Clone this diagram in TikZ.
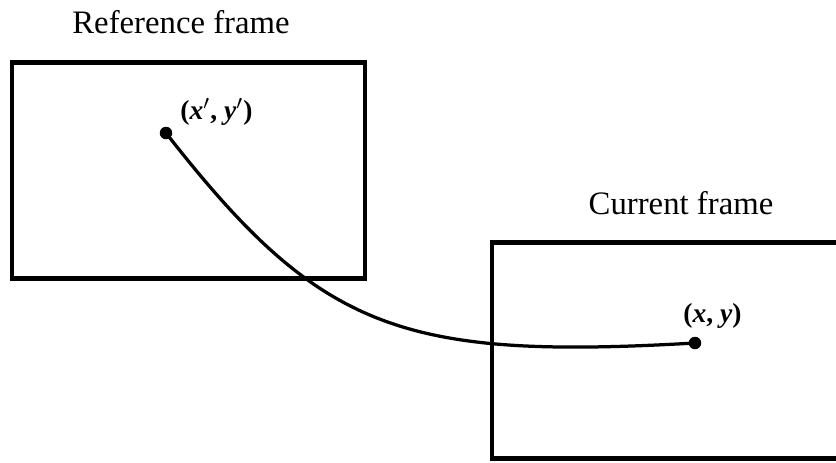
\documentclass[tikz,border=0pt]{standalone}
\usepackage{fontspec}
\setmainfont{Liberation Serif}
\usepackage{tikz}
\usetikzlibrary{positioning}

\begin{document}
\begin{tikzpicture}[x=0.4pt,y=-0.4pt,
  frame/.style={rectangle,draw=black,line width=1.7pt,
                minimum width=#1,minimum height=86.4pt,inner sep=0pt},
  title/.style={font=\fontsize{13.1}{15}\selectfont},
  point/.style={circle,fill=black,inner sep=0pt,minimum size=5pt},
  coord/.style={font=\fontsize{11}{13}\selectfont\bfseries,inner sep=0pt}
]
\useasboundingbox (0,0) rectangle (836,462);
% Frames
\node[frame=141.2pt] (refbox) at (188.5,170.5) {};
\node[frame=143.2pt] (curbox) at (671,350.5) {};
% Titles
\node[title] (reftitle) at (181,22) {Reference frame};
\node[title] (curtitle) at (681,203) {Current frame};
% Points
\node[point] (p1) at (166,133) {};
\node[point] (p2) at (695,343) {};
\node[coord,anchor=south west] (l1) at (180,126) {(\textit{x}$^{\prime}$, \textit{y}$^{\prime}$)};
\node[coord,anchor=south west] (l2) at (683,329) {(\textit{x}, \textit{y})};
% Motion
\draw[line width=1.3pt] (p1.center) .. controls (320,330) and (400,360) .. (p2.center);
\end{tikzpicture}
\end{document}
